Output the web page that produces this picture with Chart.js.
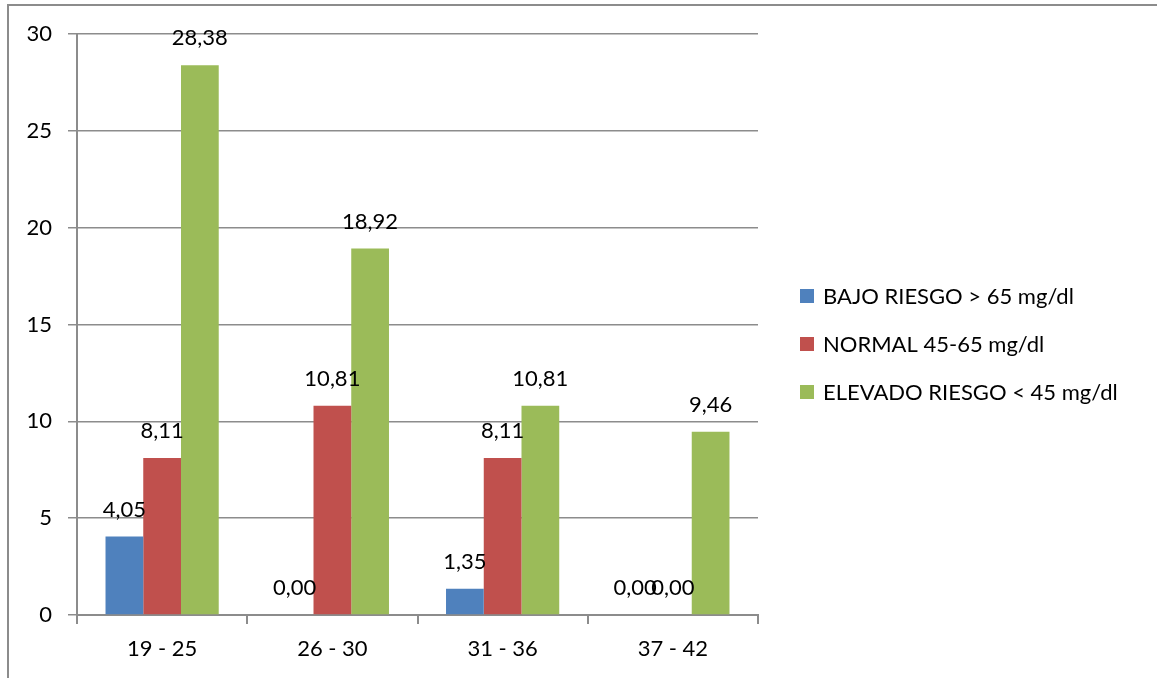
<!DOCTYPE html>
<html>
<head>
<meta charset="utf-8">
<script src="https://cdn.jsdelivr.net/npm/chart.js@4.4.1/dist/chart.umd.min.js"></script>
<style>
  html, body { margin: 0; padding: 0; background: #fff; }
  #wrap { position: relative; width: 1157px; height: 678px; overflow: hidden; }
  #frame { position: absolute; left: 7px; top: 4px; width: 1200px; height: 700px;
           border-top: 2px solid #8c8c8c; border-left: 2px solid #8c8c8c; box-sizing: border-box; }
  canvas { position: absolute; left: 0; top: 0; }
</style>
</head>
<body>
<div id="wrap">
  <div id="frame"></div>
  <canvas id="c" width="1157" height="678"></canvas>
</div>
<script>
// Age groups (years) and HDL-cholesterol risk percentages
const categories = ['19 - 25', '26 - 30', '31 - 36', '37 - 42'];
const seriesNames = ['BAJO RIESGO > 65 mg/dl', 'NORMAL 45-65 mg/dl', 'ELEVADO RIESGO < 45 mg/dl'];
const bajoRiesgo = [4.05, 0.00, 1.35, 0.00];
const normal = [8.11, 10.81, 8.11, 0.00];
const elevadoRiesgo = [28.38, 18.92, 10.81, 9.46];
const yTicks = [0, 5, 10, 15, 20, 25, 30];

const colors = ['#4F81BD', '#C0504D', '#9BBB59'];
const FONT = 'Lato, "Open Sans", sans-serif';
const FONT_SIZE = 22;

const fmt = v => v.toFixed(2).replace('.', ',');

// Value labels above every bar
const valueLabels = {
  id: 'valueLabels',
  afterDatasetsDraw(chart) {
    const ctx = chart.ctx;
    ctx.save();
    ctx.font = FONT_SIZE + 'px ' + FONT;
    ctx.fillStyle = '#000';
    ctx.textAlign = 'center';
    ctx.textBaseline = 'alphabetic';
    chart.data.datasets.forEach((ds, i) => {
      chart.getDatasetMeta(i).data.forEach((bar, j) => {
        ctx.fillText(fmt(ds.data[j]), bar.x, bar.y - 20);
      });
    });
    ctx.restore();
  }
};

// Legend at the right, square swatches
const sideLegend = {
  id: 'sideLegend',
  afterDraw(chart) {
    const ctx = chart.ctx;
    ctx.save();
    ctx.font = FONT_SIZE + 'px ' + FONT;
    ctx.textBaseline = 'middle';
    ctx.textAlign = 'left';
    chart.data.datasets.forEach((ds, i) => {
      const cy = 296 + i * 48;
      ctx.fillStyle = ds.backgroundColor;
      ctx.fillRect(800, cy - 7, 14, 14);
      ctx.fillStyle = '#000';
      ctx.fillText(ds.label, 823, cy + 1);
    });
    ctx.restore();
  }
};

new Chart(document.getElementById('c'), {
  type: 'bar',
  data: {
    labels: categories,
    datasets: [
      { label: seriesNames[0], data: bajoRiesgo, backgroundColor: colors[0] },
      { label: seriesNames[1], data: normal, backgroundColor: colors[1] },
      { label: seriesNames[2], data: elevadoRiesgo, backgroundColor: colors[2] }
    ]
  },
  options: {
    responsive: false,
    animation: false,
    devicePixelRatio: 1,
    layout: { padding: { left: 8, top: 34, right: 399, bottom: 0 } },
    datasets: { bar: { categoryPercentage: 0.665, barPercentage: 1.0, borderWidth: 0 } },
    plugins: { legend: { display: false }, tooltip: { enabled: false } },
    scales: {
      x: {
        afterFit(s) { s.height = 63; },
        grid: { offset: true, drawOnChartArea: false, drawTicks: true, tickLength: 9, color: '#8c8c8c', lineWidth: 2 },
        border: { color: '#8c8c8c', width: 2 },
        ticks: { color: '#000', font: { family: FONT, size: FONT_SIZE }, padding: 12 }
      },
      y: {
        min: 0, max: 30,
        afterFit(s) { s.width = 69; },
        afterBuildTicks(s) { s.ticks = yTicks.map(v => ({ value: v })); },
        grid: { color: '#8c8c8c', lineWidth: 1.5, tickLength: 9 },
        border: { color: '#8c8c8c', width: 2 },
        ticks: { color: '#000', font: { family: FONT, size: FONT_SIZE }, padding: 16 }
      }
    }
  },
  plugins: [valueLabels, sideLegend]
});
</script>
</body>
</html>
